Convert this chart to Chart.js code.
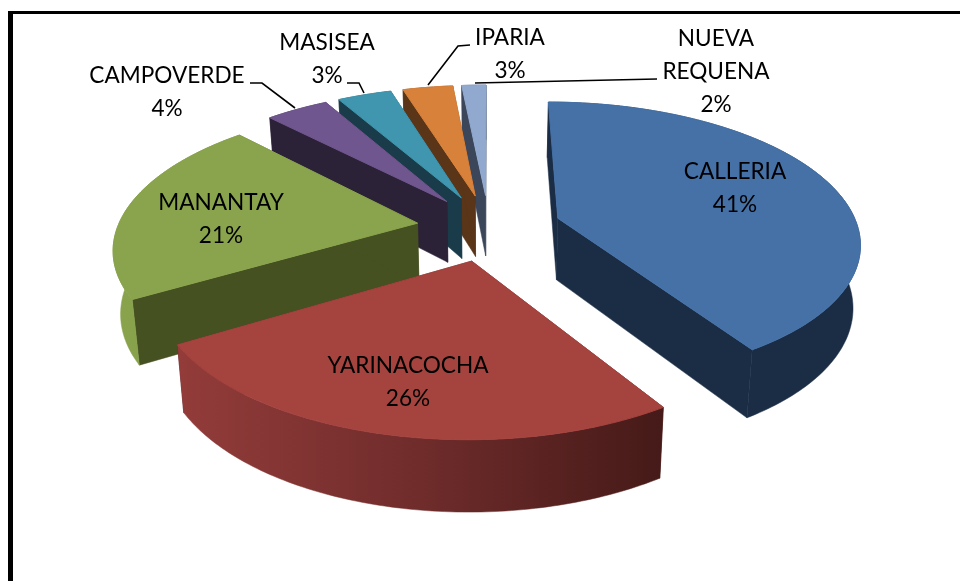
<!DOCTYPE html>
<html>
<head>
<meta charset="utf-8">
<style>
  html, body { margin: 0; padding: 0; background: #fff; overflow: hidden; }
  canvas { display: block; }
</style>
<script src="https://cdn.jsdelivr.net/npm/chart.js@4"></script>
</head>
<body>
<canvas id="pieChart" width="960" height="581"></canvas>
<script>
const categories = ["CALLERIA", "YARINACOCHA", "MANANTAY", "CAMPOVERDE", "MASISEA", "IPARIA", "NUEVA REQUENA"];
// the printed labels are rounded
const values = [41, 25.4, 21.4, 4, 3.45, 3.2, 1.55];
const percentLabels = ["41%", "26%", "21%", "4%", "3%", "3%", "2%"];

const topColors = ["#4571a7", "#a5433f", "#89a44c", "#70568e", "#4096ae", "#d8813a", "#92a9cf"];
const radialWallColors = ["#1a2d45", "#4a1c1a", "#465122", "#2c2238", "#1a3c4a", "#5a3518", "#3b465a"];
const arcWallColors = [
  ["#1a2d45", "#1a2d45"],
  ["#933c3a", "#6f2c2b", "#451a18"],
  ["#89a44c", "#7d9846"],
  ["#2c2238", "#2c2238"],
  ["#1a3c4a", "#1a3c4a"],
  ["#5a3518", "#5a3518"],
  ["#3b465a", "#3b465a"]
];

// back to front, the way the slices overlap
const drawOrder = [0, 6, 5, 4, 3, 2, 1];

// [x, y] of each text block centre, first line
const labelPlaces = [[735, 172], [408, 366], [221, 203], [167, 76], [327, 43], [510, 38], [716, 39]];
const labelLines = [["CALLERIA"], ["YARINACOCHA"], ["MANANTAY"], ["CAMPOVERDE"], ["MASISEA"], ["IPARIA"], ["NUEVA", "REQUENA"]];
const leaders = [
  [[250, 83], [262, 83], [295, 108]],
  [[347, 83], [359, 83], [364, 93]],
  [[470, 45], [458, 46], [428, 85]],
  [[475, 83], [657, 79]]
];

// perspective of the pie floor
const view = { cx: 489, cy: 227.5, tilt: 0.459, depth: 0.000536, wall: 62, taper: 0.98, radius: 300 };

function project(u, v, low) {
  const s = 1 / (1 - view.depth * v);
  return {
    x: view.cx + u * s * (low ? view.taper : 1),
    y: view.cy + view.tilt * v * s + (low ? view.wall * Math.pow(s, 0.7) : 0)
  };
}

function tracePath(ctx, pts) {
  ctx.beginPath();
  pts.forEach((p, i) => (i ? ctx.lineTo(p.x, p.y) : ctx.moveTo(p.x, p.y)));
  ctx.closePath();
}

function drawSlice(ctx, arc) {
  const { startAngle, endAngle, outerRadius } = arc.getProps(["startAngle", "endAngle", "outerRadius"], true);
  const i = arc.$context.index;
  const unit = view.radius / outerRadius;
  const mid = (startAngle + endAngle) / 2;
  const ox = Math.cos(mid) * arc.options.offset * unit;
  const oy = Math.sin(mid) * arc.options.offset * unit;

  const ring = [];
  const steps = Math.max(4, Math.ceil((endAngle - startAngle) * 60));
  for (let k = 0; k <= steps; k++) {
    const a = startAngle + (endAngle - startAngle) * k / steps;
    ring.push([ox + Math.cos(a) * outerRadius * unit, oy + Math.sin(a) * outerRadius * unit]);
  }
  const top = ring.map(p => project(p[0], p[1], false));
  const low = ring.map(p => project(p[0], p[1], true));
  const apexTop = project(ox, oy, false);
  const apexLow = project(ox, oy, true);

  // flat walls
  ctx.fillStyle = radialWallColors[i];
  ctx.strokeStyle = radialWallColors[i];
  ctx.lineWidth = 0.5;
  tracePath(ctx, [apexTop, top[0], low[0], apexLow]);
  ctx.fill();
  ctx.stroke();
  tracePath(ctx, [apexTop, top[steps], low[steps], apexLow]);
  ctx.fill();
  ctx.stroke();

  // round wall
  const xs = top.map(p => p.x);
  const grad = ctx.createLinearGradient(Math.min(...xs), 0, Math.max(...xs), 0);
  arcWallColors[i].forEach((c, n, all) => grad.addColorStop(n / (all.length - 1), c));
  ctx.fillStyle = grad;
  ctx.strokeStyle = grad;
  tracePath(ctx, top.concat(low.slice().reverse()));
  ctx.fill();
  ctx.stroke();

  // top face, stroked so no wall colour fringes its edge
  ctx.fillStyle = arc.options.backgroundColor;
  ctx.strokeStyle = arc.options.backgroundColor;
  ctx.lineWidth = 1;
  tracePath(ctx, [apexTop].concat(top));
  ctx.fill();
  ctx.stroke();
}

const pie3d = {
  id: "pie3d",
  beforeDatasetDraw(chart, args) {
    const ctx = chart.ctx;
    const arcs = args.meta.data;
    ctx.save();
    drawOrder.forEach(i => drawSlice(ctx, arcs[i]));
    ctx.restore();
    return false;
  },
  afterDraw(chart) {
    const ctx = chart.ctx;
    ctx.save();

    // page frame
    ctx.fillStyle = "#000";
    ctx.fillRect(8, 11, 952, 3);
    ctx.fillRect(8, 11, 5, 570);

    ctx.strokeStyle = "#000";
    ctx.lineWidth = 1.6;
    leaders.forEach(line => {
      ctx.beginPath();
      line.forEach((p, i) => (i ? ctx.lineTo(p[0], p[1]) : ctx.moveTo(p[0], p[1])));
      ctx.stroke();
    });

    ctx.fillStyle = "#000";
    ctx.font = "22.6px Lato, Carlito, sans-serif";
    ctx.textAlign = "center";
    ctx.textBaseline = "middle";
    labelPlaces.forEach((place, i) => {
      const lines = labelLines[i].concat(percentLabels[i]);
      lines.forEach((t, n) => ctx.fillText(t, place[0], place[1] + n * 33));
    });
    ctx.restore();
  }
};

new Chart(document.getElementById("pieChart"), {
  type: "pie",
  data: {
    labels: categories,
    datasets: [{ data: values, backgroundColor: topColors, borderWidth: 0, offset: 62.6 }]
  },
  options: {
    responsive: false,
    animation: false,
    layout: { padding: 0 },
    plugins: { legend: { display: false }, tooltip: { enabled: false } }
  },
  plugins: [pie3d]
});
</script>
</body>
</html>
